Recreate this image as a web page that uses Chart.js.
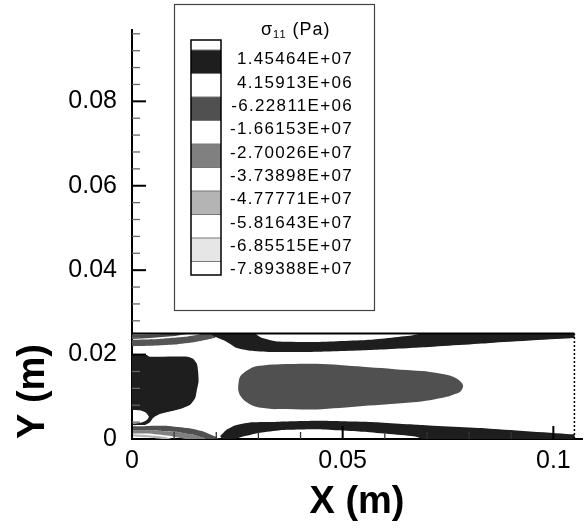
<!DOCTYPE html>
<html><head><meta charset="utf-8">
<script src="https://cdn.jsdelivr.net/npm/chart.js@4.4.1/dist/chart.umd.min.js"></script>
<style>html,body{margin:0;padding:0;background:#fff;}canvas{display:block;}</style>
</head><body>
<canvas id="c" width="588" height="529"></canvas>
<script>
// ---------- data (metres) ----------
const xMajorValues = [0, 0.05, 0.1];
const xTickLabels = ['0', '0.05', '0.1'];
const yMajorValues = [0, 0.02, 0.04, 0.06, 0.08];
const yTickLabels = ['0', '0.02', '0.04', '0.06', '0.08'];

const levelLabels = ['1.45464E+07','4.15913E+06','-6.22811E+06','-1.66153E+07','-2.70026E+07',
  '-3.73898E+07','-4.77771E+07','-5.81643E+07','-6.85515E+07','-7.89388E+07'];
const bandColors = ['#ffffff','#1e1e1e','#ffffff','#505050','#ffffff','#808080','#ffffff','#b4b4b4','#ffffff','#e6e6e6','#ffffff'];

// domain outline
const domainTop = [[0, 0.025], [0.105, 0.025]];
const domainRight = [[0.105, 0], [0.105, 0.025]];

// contour regions (x, y)
const centreCore = [[0.0252,0.0126],[0.0256,0.0147],[0.0271,0.0161],[0.0292,0.0172],[0.0316,0.0175],[0.0351,0.0177],
  [0.0438,0.0178],[0.0548,0.0171],[0.0667,0.0162],[0.0707,0.0159],[0.0747,0.0152],[0.0767,0.0145],[0.0779,0.0137],
  [0.0786,0.0126],[0.0779,0.0112],[0.0762,0.0105],[0.0747,0.0100],[0.0707,0.0092],[0.0667,0.0087],[0.0548,0.0078],
  [0.0438,0.0070],[0.0351,0.0071],[0.0332,0.0071],[0.0292,0.0077],[0.0268,0.0090],[0.0256,0.0104],[0.0252,0.0116]];

const topBand = [[0.0185,0.025],[0.0197,0.0242],[0.0221,0.0232],[0.0233,0.0225],[0.0247,0.0216],[0.0280,0.0209],
  [0.0328,0.0206],[0.0446,0.0207],[0.0565,0.0211],[0.0684,0.0217],[0.0843,0.0227],[0.1047,0.0239],[0.105,0.0239],
  [0.105,0.025],[0.0688,0.025],[0.0667,0.0246],[0.0565,0.0235],[0.0446,0.0230],[0.0344,0.0231],[0.0309,0.0239],[0.0292,0.025]];

const bottomBand = [[0.0209,0.0007],[0.0223,0.0021],[0.0244,0.0032],[0.0280,0.0039],[0.0316,0.0040],[0.0351,0.0041],
  [0.0446,0.0043],[0.0565,0.0040],[0.0684,0.0033],[0.0843,0.0025],[0.1047,0.0011],[0.105,0.0011],[0.105,0],
  [0.0691,0],[0.0672,0.0006],[0.0548,0.0017],[0.0438,0.0023],[0.0351,0.0021],[0.0304,0.0015],[0.0268,0.0007],
  [0.0244,0],[0.0214,0]];

const leftBlob = [[0,0.0201],[0.0031,0.0201],[0.0043,0.0195],[0.0131,0.0195],[0.0145,0.0190],[0.0154,0.0178],
  [0.0157,0.0159],[0.0158,0.0137],[0.0154,0.0116],[0.0150,0.0097],[0.0138,0.0081],[0.0114,0.0071],[0.0090,0.0065],
  [0.0066,0.0059],[0.0050,0.0050],[0.0043,0.0040],[0.0033,0.0034],[0.0019,0.0033],[0,0.0033],[0,0.0036],
  [0.0019,0.0038],[0.0033,0.0043],[0.0040,0.0052],[0.0033,0.0062],[0.0019,0.0068],[0,0.0069]];

const topStripeA = [[0,0.0247],[0.0066,0.0248],[0.0138,0.0250],[0.0102,0.0244],[0.0043,0.0239],[0,0.0237]];
const topStripeC = [[0,0.0235],[0.0066,0.0237],[0.0126,0.0242],[0.0173,0.0250],[0.0205,0.0250],[0.0197,0.0240],
  [0.0150,0.0230],[0.0102,0.0224],[0.0043,0.0221],[0,0.0220]];

const lowStripeE = [[0,0.0030],[0.0043,0.0031],[0.0085,0.0031],[0.0133,0.0026],[0.0169,0.0018],[0.0195,0.0007],
  [0.0207,0],[0.0180,0],[0.0150,0.0009],[0.0102,0.0017],[0.0043,0.0020],[0,0.0020]];
const lowStripeF = [[0,0.0020],[0.0043,0.0020],[0.0102,0.0017],[0.0150,0.0009],[0.0180,0],[0.0126,0],
  [0.0085,0.0008],[0.0038,0.0013],[0,0.0013]];
const lowStripeG = [[0,0.0011],[0.0038,0.0009],[0.0078,0.0005],[0.0095,0],[0.0070,0],[0.0035,0.0004],[0,0.0006]];

// ---------- chart ----------
const FONT = "'Liberation Sans', Arial, Helvetica, sans-serif";
const toXY = a => a.map(([x, y]) => ({x, y}));

function region(pts, color, tension) {
  return {data: toXY(pts), backgroundColor: color, borderColor: color, borderWidth: 0,
    fill: 'shape', pointRadius: 0, pointHoverRadius: 0, tension: tension};
}
function edge(pts, width, dash) {
  return {data: toXY(pts), borderColor: '#000', borderWidth: width, borderDash: dash || [],
    fill: false, pointRadius: 0, pointHoverRadius: 0, tension: 0};
}

function labelFor(values, labels) {
  return function (value) {
    const i = values.findIndex(v => Math.abs(v - value) < 1e-7);
    return i >= 0 ? labels[i] : '';
  };
}

const inwardTicks = {
  id: 'inwardTicks',
  afterDraw(chart) {
    const {ctx, chartArea: a, scales: {x, y}} = chart;
    ctx.save();
    x.ticks.forEach(t => {
      const p = x.getPixelForValue(t.value);
      const major = t.label !== '';
      ctx.beginPath();
      ctx.strokeStyle = major ? '#000' : '#333';
      ctx.lineWidth = major ? 2 : 1.3;
      ctx.moveTo(p, a.bottom);
      ctx.lineTo(p, a.bottom - (major ? 13 : 7));
      ctx.stroke();
    });
    y.ticks.forEach(t => {
      const p = y.getPixelForValue(t.value);
      const major = t.label !== '';
      ctx.beginPath();
      ctx.strokeStyle = major ? '#000' : '#666';
      ctx.lineWidth = major ? 2 : 1.3;
      ctx.moveTo(a.left, p);
      ctx.lineTo(a.left + (major ? 14 : 8), p);
      ctx.stroke();
    });
    ctx.restore();
  }
};

const contourLegend = {
  id: 'contourLegend',
  afterDraw(chart) {
    const ctx = chart.ctx;
    ctx.save();
    // frame
    ctx.fillStyle = '#fff';
    ctx.fillRect(174, 4, 200, 306);
    ctx.strokeStyle = '#444';
    ctx.lineWidth = 1.2;
    ctx.strokeRect(174.5, 4.5, 200, 306);
    // title
    ctx.fillStyle = '#000';
    ctx.textBaseline = 'alphabetic';
    ctx.textAlign = 'left';
    try { ctx.letterSpacing = '1px'; } catch (e) {}
    ctx.font = '18px ' + FONT;
    ctx.fillText('σ', 261, 35);
    const w = ctx.measureText('σ').width;
    ctx.font = '11px ' + FONT;
    ctx.fillText('11', 261 + w, 38);
    const w2 = ctx.measureText('11').width;
    ctx.font = '18px ' + FONT;
    ctx.fillText(' (Pa)', 261 + w + w2, 35);
    // colour bar
    const bx = 191, bw = 30;
    const edges = [40, 50];
    for (let i = 1; i < bandColors.length - 1; i++) edges.push(50 + 23.5 * i);
    edges.push(275);
    for (let i = 0; i < bandColors.length; i++) {
      ctx.fillStyle = bandColors[i];
      ctx.fillRect(bx, edges[i], bw, edges[i + 1] - edges[i]);
    }
    ctx.strokeStyle = '#777';
    ctx.lineWidth = 1;
    for (let i = 1; i < edges.length - 1; i++) {
      ctx.beginPath();
      ctx.moveTo(bx, edges[i]); ctx.lineTo(bx + bw, edges[i]);
      ctx.stroke();
    }
    ctx.strokeStyle = '#000';
    ctx.lineWidth = 1.5;
    ctx.strokeRect(bx, 40, bw, 235);
    // labels
    ctx.fillStyle = '#000';
    ctx.font = '17px ' + FONT;
    try { ctx.letterSpacing = '1.3px'; } catch (e) {}
    ctx.textAlign = 'right';
    ctx.textBaseline = 'middle';
    levelLabels.forEach((s, i) => ctx.fillText(s, 353, 59.5 + 23.35 * i));
    ctx.restore();
  }
};

new Chart(document.getElementById('c'), {
  type: 'line',
  data: {
    datasets: [
      edge(domainTop, 2),
      edge(domainRight, 1.5, [2, 2]),
      region(centreCore, '#505050', 0.3),
      region(topBand, '#1e1e1e', 0.15),
      region(bottomBand, '#1e1e1e', 0.15),
      region(leftBlob, '#1e1e1e', 0.2),
      region(topStripeA, '#4a4a4a', 0),
      region(topStripeC, '#555555', 0.1),
      region(lowStripeE, '#505050', 0.1),
      region(lowStripeF, '#808080', 0.1),
      region(lowStripeG, '#b4b4b4', 0.1)
    ]
  },
  options: {
    responsive: false,
    devicePixelRatio: 1,
    animation: false,
    events: [],
    layout: {padding: {left: 0, right: 6, top: 30, bottom: 0}},
    plugins: {legend: {display: false}, tooltip: {enabled: false}},
    scales: {
      x: {
        type: 'linear', min: 0, max: 0.1068, z: 1,
        afterFit: s => { s.height = 90; },
        border: {display: true, color: '#000', width: 2},
        grid: {display: false, drawTicks: false},
        ticks: {stepSize: 0.01, includeBounds: false, autoSkip: false, maxRotation: 0, padding: 7,
          color: '#000', font: {family: FONT, size: 25}, callback: labelFor(xMajorValues, xTickLabels)},
        title: {display: true, text: 'X (m)', color: '#000', padding: {top: 0, bottom: 4},
          font: {family: FONT, size: 38, weight: 'bold'}}
      },
      y: {
        type: 'linear', min: 0, max: 0.0969, z: 1,
        afterFit: s => { s.width = 132; },
        border: {display: true, color: '#000', width: 2},
        grid: {display: false, drawTicks: false},
        ticks: {stepSize: 0.004, includeBounds: false, autoSkip: false, padding: 15,
          color: '#000', font: {family: FONT, size: 25}, callback: labelFor(yMajorValues, yTickLabels)},
        title: {display: true, text: 'Y (m)', align: 'start', color: '#000', padding: {top: 11, bottom: 0},
          font: {family: FONT, size: 38, weight: 'bold'}}
      }
    }
  },
  plugins: [inwardTicks, contourLegend]
});
</script>
</body></html>
